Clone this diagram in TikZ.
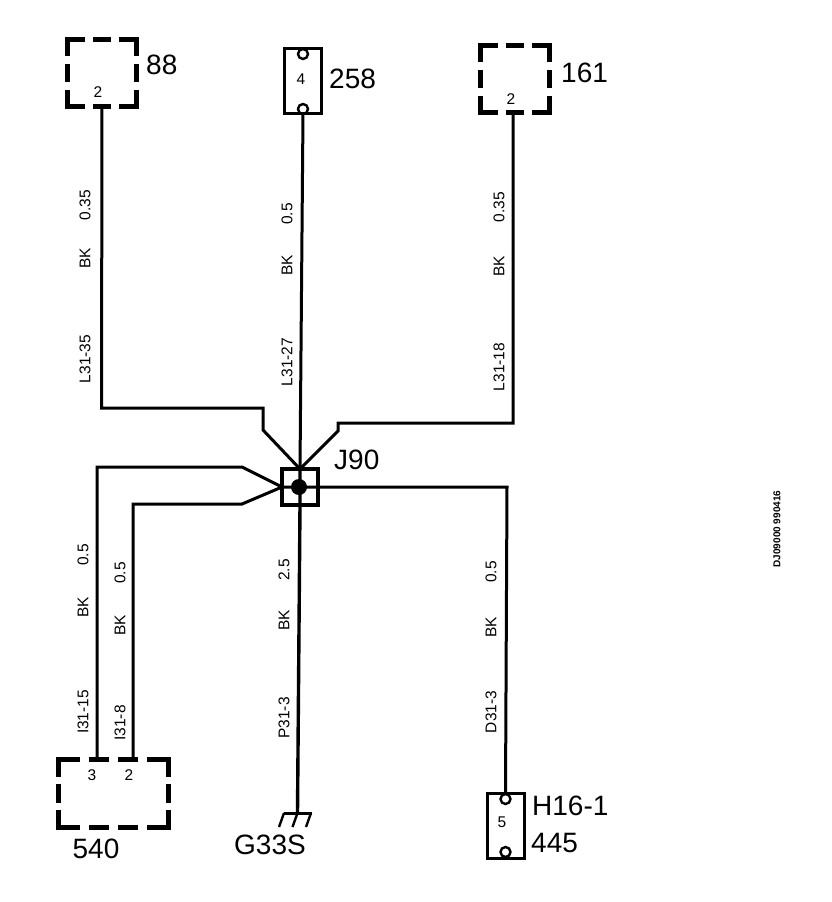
\documentclass[tikz,border=0pt]{standalone}
\usepackage{fontspec}
\setmainfont{Liberation Sans}
\usetikzlibrary{calc}

\newcommand{\bigtxt}{\fontsize{28}{30}\selectfont}
\newcommand{\smalltxt}{\fontsize{15.5}{17}\selectfont}

\begin{document}
\begin{tikzpicture}[
    x=1pt,y=-1pt,
    wire/.style={line width=3pt,miter limit=10},
    frame/.style={draw,line width=5.5pt,line cap=rect,inner sep=0pt,outer sep=0pt,
                  dash pattern=on 28.5 off 13.5 on 12.5 off 13.5,dash phase=14},
    plug/.style={draw,line width=3pt,inner sep=0pt,outer sep=0pt,
                 minimum width=37pt},
    pinhole/.style={circle,draw,line width=2.4pt,inner sep=0pt,minimum size=10pt},
    tag/.style={font=\bigtxt,inner sep=0pt},
    pinno/.style={font=\smalltxt,inner sep=0pt},
    wlabel/.style={font=\smalltxt,inner sep=0pt,rotate=90}
  ]
    \useasboundingbox (0,0) rectangle (832,902);

    % connectors at the top
    \node[frame,minimum width=69pt,minimum height=67pt] (b88) at (102,73) {};
    \node[plug,minimum height=65pt] (b258) at (303,81) {};
    \node[frame,minimum width=69pt,minimum height=67pt] (b161) at (515,79) {};
    \node[pinhole] (h258a) at (303,54) {};
    \node[pinhole] (h258b) at (303,109) {};

    % connectors at the bottom
    \node[frame,minimum width=110pt,minimum height=68pt,
          dash pattern=on 34 off 14 on 15 off 14 on 15 off 14 on 34 off 12.5 on 13 off 12.5,
          dash phase=15] (b540) at (113.5,793.5) {};
    \node[plug,minimum height=65pt] (b445) at (505.5,825.5) {};
    \node[pinhole] (h445a) at (505.5,799) {};
    \node[pinhole] (h445b) at (505.5,852) {};

    % splice
    \node[draw,line width=3.5pt,inner sep=0pt,outer sep=0pt,minimum size=36pt] (j90) at (300,487) {};
    \node[circle,fill=black,inner sep=0pt,minimum size=16pt] (dot) at (299,487) {};

    \coordinate (p3) at (97,759.5);
    \coordinate (p2) at (133,759.5);
    \coordinate (w161) at (513,112.5);
    \coordinate (gnd) at (297.5,813);

    % wires
    \draw[wire] (b88.south) -- (101.5,408) -- (263,408) -- (263,430) -- (j90.north);
    \draw[wire] (b258.south) -- (j90.north);
    \draw[wire] (w161) -- (513,423) -- (338,423) -- (338,431) -- (j90.north);
    \draw[wire] (p3) -- (97,467) -- (242,467) -- (j90.west);
    \draw[wire] (p2) -- (133,504) -- (242,504) -- (j90.west);
    \draw[wire] (j90.west) -- (j90.east) -- (507,487) -- (b445.north);
    \draw[wire,line width=3.4pt] (j90.north) -- (j90.south) -- (gnd);

    % ground symbol
    \draw[wire] (284,813) -- (312,813);
    \draw[wire,line width=2.4pt] (284,813) -- (279,827);
    \draw[wire,line width=2.4pt] (297.5,813) -- (292.5,827);
    \draw[wire,line width=2.4pt] (311,813) -- (306,827);

    % names
    \node[tag,anchor=west] (n88) at (146,65) {88};
    \node[tag,anchor=west] (n258) at (329,79) {258};
    \node[tag,anchor=west] (n161) at (561,73) {161};
    \node[tag,anchor=west] (nj90) at (334,460) {J90};
    \node[tag] (n540) at (96,849) {540};
    \node[tag] (ng33) at (270,845) {G33S};
    \node[tag,anchor=west] (nh16) at (532,806) {H16-1};
    \node[tag,anchor=west] (n445) at (531,843) {445};

    % pin numbers
    \node[pinno] (q88) at (98,92) {2};
    \node[pinno] (q258) at (301,79) {4};
    \node[pinno] (q161) at (511,99) {2};
    \node[pinno] (q3) at (92,775) {3};
    \node[pinno] (q2) at (129,775) {2};
    \node[pinno] (q445) at (502,822) {5};

    % wire data
    \foreach \px/\py/\txt [count=\i] in {
        85/205/0.35,85/258/BK,85/359/L31-35,
        287/214/0.5,287/265/BK,287/362/L31-27,
        499/207/0.35,499/266/BK,499/367/L31-18,
        83/555/0.5,83/607/BK,83/712/I31-15,
        120/573/0.5,120/625/BK,120/723/I31-8,
        284/570/2.5,284/620/BK,284/718/P31-3,
        491/572/0.5,491/627/BK,491/712/D31-3}
      \node[wlabel] (w\i) at (\px,\py) {\txt};

    \node[font=\fontsize{10}{11}\selectfont\bfseries,inner sep=0pt,rotate=90] (stamp) at (777,529) {DJ09000 990416};
  \end{tikzpicture}
\end{document}
